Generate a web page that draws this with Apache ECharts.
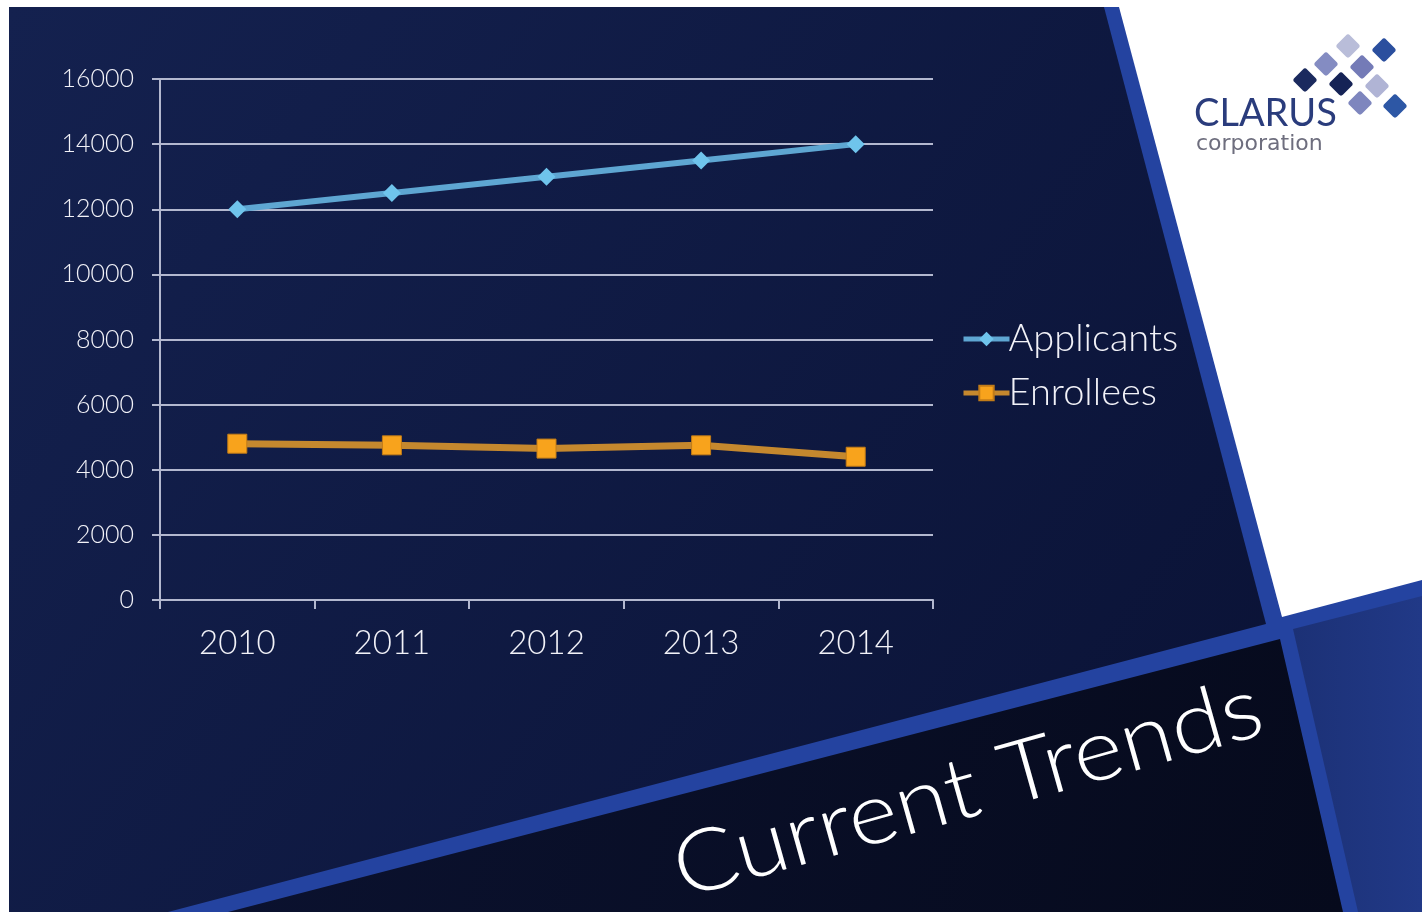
<!DOCTYPE html>
<html><head><meta charset="utf-8">
<script src="https://cdn.jsdelivr.net/npm/echarts@6/dist/echarts.min.js"></script>
<style>html,body{margin:0;padding:0;background:#fff}#c{width:1422px;height:912px}</style>
</head><body><div id="c"></div>
<script>
var years = ['2010','2011','2012','2013','2014'];
var applicants = [12000, 12500, 13000, 13500, 14000];
var enrollees = [4800, 4750, 4650, 4750, 4400];
var seriesNames = ['Applicants', 'Enrollees'];
var title = 'Current Trends';
var logoName = 'CLARUS';
var logoSub = 'corporation';

var FONT = 'Lato, "Open Sans", sans-serif';
var chart = echarts.init(document.getElementById('c'));

function sq(x, y, color) {
  return { type: 'rect', x: x, y: y, rotation: Math.PI / 4, originX: 0, originY: 0,
    shape: { x: -9, y: -9, width: 18, height: 18, r: 3 }, style: { fill: color }, z: 5 };
}

var bg = [
  { type: 'rect', shape: { x: 9, y: 7, width: 1413, height: 905 }, style: { fill: '#2443a0' }, z: -20 },
  { type: 'polygon', shape: { points: [[9,7],[1104,7],[1266,624],[168,912],[9,912]] },
    style: { fill: new echarts.graphic.LinearGradient(0,0,1,1,[{offset:0,color:'#14214f'},{offset:1,color:'#0a1235'}]) }, z: -19 },
  { type: 'polygon', shape: { points: [[1119,7],[1422,7],[1422,580],[1282,617]] }, style: { fill: '#ffffff' }, z: -19 },
  { type: 'polygon', shape: { points: [[228,912],[1280,639],[1343,912]] },
    style: { fill: new echarts.graphic.LinearGradient(0,0,1,1,[{offset:0,color:'#0b1230'},{offset:1,color:'#060a1c'}]) }, z: -19 },
  { type: 'polygon', shape: { points: [[1293,629],[1422,596],[1422,912],[1358,912]] },
    style: { fill: new echarts.graphic.LinearGradient(0,0,1,0,[{offset:0,color:'#1c3176'},{offset:1,color:'#213987'}]) }, z: -19 },
  { type: 'text', x: 687, y: 913, rotation: 0.275, scaleX: 1.13, scaleY: 1.03,
    style: { text: title, fill: '#ffffff', font: '300 84px ' + FONT, textAlign: 'left', textVerticalAlign: 'bottom' }, z: 5 },
  { type: 'text', x: 1194, y: 133,
    style: { text: logoName, fill: '#2a3c7c', font: '400 38px ' + FONT, textAlign: 'left', textVerticalAlign: 'bottom' }, z: 5 },
  { type: 'text', x: 1196, y: 155,
    style: { text: logoSub, fill: '#6e6e7e', font: '400 22px "DejaVu Sans", sans-serif', textAlign: 'left', textVerticalAlign: 'bottom' }, z: 5 },
  sq(1348, 46, '#b9bdd9'), sq(1384, 50, '#2b4f9e'),
  sq(1326, 64, '#848cc2'), sq(1362, 67, '#747bb7'),
  sq(1305, 80, '#1b2a5e'), sq(1341, 84, '#152356'), sq(1377, 86, '#b0b4d5'),
  sq(1360, 103, '#7e86be'), sq(1395, 106, '#2d57a5')
];

var gridColor = '#b3b8cf';
chart.setOption({
  backgroundColor: '#ffffff',
  animation: false,
  graphic: { elements: bg },
  grid: { left: 160, right: 489, top: 79, bottom: 312, containLabel: false },
  legend: {
    orient: 'vertical', left: 956, top: 315, itemGap: 16, itemWidth: 46, itemHeight: 18,
    data: seriesNames,
    lineStyle: { width: 5 },
    textStyle: { color: '#f2f2f8', fontSize: 38, fontFamily: FONT, fontWeight: 300, padding: [0,0,0,-6] }
  },
  xAxis: {
    type: 'category', data: years, boundaryGap: true,
    axisLine: { lineStyle: { color: gridColor, width: 2 } },
    axisTick: { show: true, length: 9, lineStyle: { color: gridColor, width: 2 } },
    axisLabel: { color: '#f2f2f8', fontSize: 33, fontFamily: FONT, fontWeight: 300, margin: 27 },
    splitLine: { show: false }
  },
  yAxis: {
    type: 'value', min: 0, max: 16000, interval: 2000,
    axisLine: { show: true, lineStyle: { color: gridColor, width: 2 } },
    axisTick: { show: true, length: 8, lineStyle: { color: gridColor, width: 2 } },
    axisLabel: { color: '#f2f2f8', fontSize: 25, fontFamily: FONT, fontWeight: 300, margin: 26,
      formatter: function (v) { return String(v); } },
    splitLine: { show: true, lineStyle: { color: gridColor, width: 2 } }
  },
  series: [
    { name: seriesNames[0], type: 'line', data: applicants, symbol: 'diamond', symbolSize: 18,
      lineStyle: { color: '#5ea6d2', width: 6 }, itemStyle: { color: '#6fc4ec' }, z: 3 },
    { name: seriesNames[1], type: 'line', data: enrollees, symbol: 'rect', symbolSize: 19,
      lineStyle: { color: '#c5882e', width: 7 }, itemStyle: { color: '#f8a31c', borderColor: '#c27c18', borderWidth: 1 }, z: 3 }
  ]
});
</script></body></html>
